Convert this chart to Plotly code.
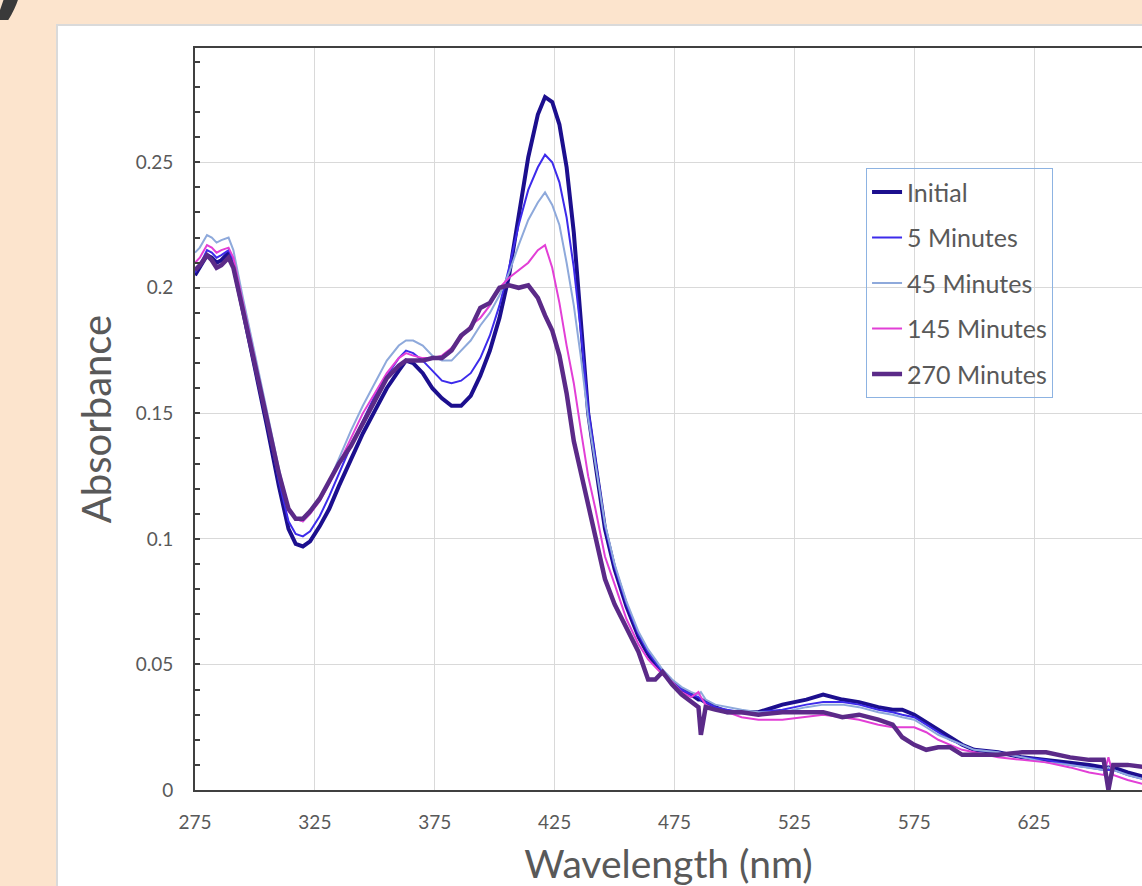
import plotly.graph_objects as go

wavelength = [275, 277, 280, 282, 284, 286, 289, 291, 295, 300, 305, 310, 314, 317, 320, 323, 327, 331, 335, 340,
              345, 350, 355, 360, 363, 366, 370, 374, 378, 382, 386, 390, 394, 398, 402, 406, 410, 414, 418, 421,
              424, 427, 430, 433, 436, 439, 442, 446, 450, 455, 460, 464, 467, 470, 474, 478, 482, 485, 486, 488,
              492, 497, 503, 510, 520, 530, 537, 545, 552, 560, 566, 570, 575, 580, 585, 590, 595, 600, 610, 620,
              630, 640, 648, 654, 656, 658, 664, 672]

initial = [0.205, 0.208, 0.213, 0.212, 0.210, 0.211, 0.214, 0.209, 0.190, 0.168, 0.145, 0.121, 0.104, 0.098, 0.097, 0.099, 0.105, 0.112, 0.121, 0.132,
           0.142, 0.151, 0.160, 0.167, 0.171, 0.170, 0.166, 0.160, 0.156, 0.153, 0.153, 0.157, 0.165, 0.175, 0.188, 0.205, 0.228, 0.252, 0.269, 0.276,
           0.274, 0.265, 0.248, 0.222, 0.186, 0.150, 0.130, 0.104, 0.088, 0.073, 0.061, 0.054, 0.050, 0.047, 0.043, 0.040, 0.038, 0.036, 0.036, 0.035,
           0.033, 0.031, 0.031, 0.031, 0.034, 0.036, 0.038, 0.036, 0.035, 0.033, 0.032, 0.032, 0.030, 0.027, 0.024, 0.021, 0.018, 0.016, 0.015, 0.013,
           0.012, 0.011, 0.010, 0.009, 0.009, 0.009, 0.007, 0.005]

min5 = [0.206, 0.209, 0.215, 0.214, 0.212, 0.213, 0.215, 0.211, 0.192, 0.170, 0.147, 0.123, 0.107, 0.102, 0.101, 0.103, 0.109, 0.117, 0.126, 0.137,
        0.147, 0.157, 0.165, 0.172, 0.175, 0.174, 0.171, 0.167, 0.163, 0.162, 0.163, 0.166, 0.172, 0.181, 0.193, 0.208, 0.225, 0.239, 0.248, 0.253,
        0.250, 0.242, 0.228, 0.208, 0.182, 0.152, 0.131, 0.105, 0.089, 0.074, 0.062, 0.055, 0.051, 0.047, 0.043, 0.040, 0.038, 0.037, 0.036, 0.035,
        0.033, 0.032, 0.031, 0.031, 0.032, 0.034, 0.035, 0.035, 0.034, 0.032, 0.031, 0.030, 0.029, 0.026, 0.023, 0.020, 0.018, 0.016, 0.015, 0.013,
        0.012, 0.010, 0.009, 0.008, 0.008, 0.008, 0.006, 0.004]

min45 = [0.214, 0.216, 0.221, 0.220, 0.218, 0.219, 0.220, 0.215, 0.196, 0.174, 0.151, 0.128, 0.112, 0.108, 0.107, 0.110, 0.116, 0.123, 0.132, 0.143,
         0.153, 0.162, 0.171, 0.177, 0.179, 0.179, 0.177, 0.173, 0.171, 0.171, 0.175, 0.179, 0.185, 0.190, 0.197, 0.206, 0.217, 0.227, 0.234, 0.238,
         0.233, 0.225, 0.210, 0.193, 0.172, 0.148, 0.130, 0.106, 0.090, 0.075, 0.063, 0.056, 0.052, 0.048, 0.044, 0.041, 0.039, 0.038, 0.039, 0.036,
         0.034, 0.033, 0.032, 0.031, 0.031, 0.033, 0.034, 0.034, 0.033, 0.031, 0.030, 0.029, 0.028, 0.025, 0.022, 0.020, 0.018, 0.016, 0.015, 0.013,
         0.011, 0.010, 0.009, 0.008, 0.009, 0.008, 0.006, 0.004]

min145 = [0.210, 0.212, 0.217, 0.216, 0.214, 0.215, 0.216, 0.212, 0.194, 0.172, 0.149, 0.126, 0.111, 0.108, 0.107, 0.110, 0.115, 0.122, 0.130, 0.140,
          0.150, 0.158, 0.166, 0.172, 0.174, 0.173, 0.172, 0.172, 0.173, 0.176, 0.180, 0.185, 0.188, 0.193, 0.200, 0.204, 0.207, 0.210, 0.215, 0.217,
          0.208, 0.194, 0.177, 0.162, 0.143, 0.125, 0.112, 0.093, 0.082, 0.068, 0.058, 0.052, 0.049, 0.046, 0.043, 0.039, 0.037, 0.039, 0.037, 0.034,
          0.032, 0.031, 0.029, 0.028, 0.028, 0.029, 0.030, 0.029, 0.028, 0.026, 0.025, 0.025, 0.025, 0.023, 0.020, 0.018, 0.016, 0.015, 0.013, 0.012,
          0.011, 0.009, 0.007, 0.006, 0.013, 0.006, 0.004, 0.002]

min270 = [0.207, 0.209, 0.213, 0.211, 0.208, 0.209, 0.212, 0.208, 0.191, 0.170, 0.148, 0.126, 0.112, 0.108, 0.108, 0.111, 0.116, 0.123, 0.130, 0.137,
          0.146, 0.155, 0.164, 0.169, 0.171, 0.171, 0.171, 0.172, 0.172, 0.175, 0.181, 0.184, 0.192, 0.194, 0.200, 0.201, 0.200, 0.201, 0.196, 0.189,
          0.183, 0.173, 0.158, 0.139, 0.126, 0.113, 0.100, 0.084, 0.074, 0.064, 0.055, 0.044, 0.044, 0.047, 0.042, 0.038, 0.035, 0.033, 0.022, 0.033,
          0.032, 0.031, 0.031, 0.030, 0.031, 0.031, 0.031, 0.029, 0.030, 0.028, 0.026, 0.021, 0.018, 0.016, 0.017, 0.017, 0.014, 0.014, 0.014, 0.015,
          0.015, 0.013, 0.012, 0.012, 0.000, 0.010, 0.010, 0.009]

series_names = ["Initial", "5 Minutes", "45 Minutes", "145 Minutes", "270 Minutes"]
series_values = [initial, min5, min45, min145, min270]
series_colors = ["#1C0F8E", "#3D2BEB", "#8EA9DB", "#E23FD6", "#5B2A88"]
series_widths = [4, 2, 2, 2, 4.5]

x_ticks = [275, 325, 375, 425, 475, 525, 575, 625, 675]

FONT = "Lato"
TXT = "#595959"

fig = go.Figure()
for i, (name, vals, col, w) in enumerate(zip(series_names, series_values, series_colors, series_widths)):
    fig.add_trace(go.Scatter(x=wavelength, y=vals, mode="lines", name=name,
                             line=dict(color=col, width=w), legendgroup=f"g{i}"))

fig.update_layout(
    width=1142, height=886,
    margin=dict(l=195, r=0, t=48, b=96),
    paper_bgcolor="#FCE4CD",
    plot_bgcolor="white",
    font=dict(family=FONT, color=TXT),
    showlegend=True,
    legend=dict(x=0.7086, y=0.838, xanchor="left", yanchor="top",
                bgcolor="rgba(0,0,0,0)", bordercolor="#8DB3E2", borderwidth=1,
                font=dict(family=FONT, size=25, color=TXT),
                traceorder="grouped", tracegroupgap=10),
    xaxis=dict(range=[275, 670], tickvals=x_ticks, showgrid=True, gridcolor="#D9D9D9", gridwidth=1,
               showline=True, linecolor="#404040", linewidth=2, mirror=True,
               ticks="", tickfont=dict(size=19, color=TXT), ticklabelstandoff=14,
               zeroline=False,
               title=dict(text="Wavelength (nm)", font=dict(size=39, color=TXT), standoff=25)),
    yaxis=dict(range=[0, 0.2955], dtick=0.05, tick0=0, showgrid=True, gridcolor="#D9D9D9", gridwidth=1,
               showline=True, linecolor="#404040", linewidth=2, mirror=False,
               ticks="inside", ticklen=5, tickcolor="#404040", tickwidth=1.5,
               minor=dict(dtick=0.01, ticks="inside", ticklen=5, tickcolor="#404040", tickwidth=1.5, showgrid=False),
               tickfont=dict(size=19, color=TXT), ticklabelstandoff=16, zeroline=False,
               title=dict(text="Absorbance", font=dict(size=40, color=TXT), standoff=12)),
    shapes=[dict(type="rect", xref="paper", yref="paper", x0=-0.1457, x1=1.2, y0=-0.3, y1=1.031,
                 fillcolor="white", line=dict(color="#DADADA", width=2), layer="below")],
    annotations=[dict(text="<b>)</b>", xref="paper", yref="paper", x=-0.1965, y=1.023, xanchor="center", yanchor="bottom",
                      showarrow=False, font=dict(family="DejaVu Sans", size=90, color="#3A3A3A"))],
)

fig.write_html("out.html", config={"displayModeBar": False},
               post_script="document.body.style.margin='0';document.body.style.overflow='hidden';")
